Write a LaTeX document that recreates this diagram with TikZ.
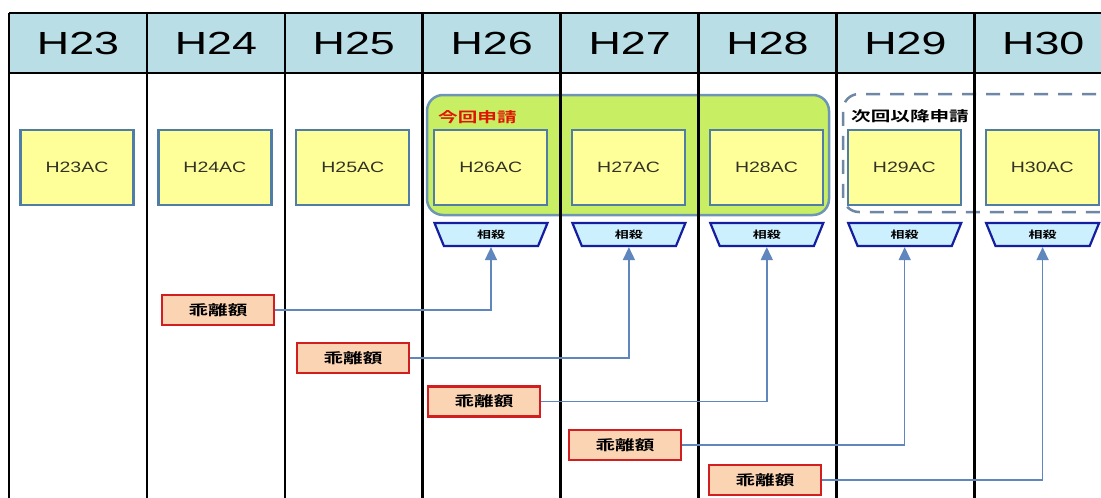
\documentclass[tikz,border=0pt]{standalone}
\usepackage{fontspec}
\usetikzlibrary{shapes.geometric,arrows.meta}
\newfontfamily\hdfont[FakeStretch=1.4]{Liberation Sans}
\newfontfamily\acfont[FakeStretch=1.3]{Liberation Sans}
\newfontfamily\jpb[FakeStretch=1.4]{Noto Sans CJK JP Bold}
\definecolor{hdfill}{RGB}{186,222,229}
\definecolor{acfill}{RGB}{255,255,153}
\definecolor{acborder}{RGB}{80,125,165}
\definecolor{actext}{RGB}{50,50,40}
\definecolor{grn}{RGB}{200,238,100}
\definecolor{grnborder}{RGB}{110,150,180}
\definecolor{dashcol}{RGB}{110,135,165}
\definecolor{lblfill}{RGB}{251,212,180}
\definecolor{lblborder}{RGB}{210,30,30}
\definecolor{trapfill}{RGB}{205,240,255}
\definecolor{trapborder}{RGB}{20,30,160}
\definecolor{conncol}{RGB}{95,135,190}
\definecolor{redtxt}{RGB}{225,20,0}
\tikzset{
  colline/.style={line width=2.5pt, black},
  hdtext/.style={font=\hdfont\fontsize{32}{32}\selectfont, inner sep=0pt},
  acbox/.style={draw=acborder, fill=acfill, line width=2.2pt, minimum width=113pt, minimum height=75pt, inner sep=0pt, text=actext, font=\acfont\fontsize{15}{15}\selectfont},
  lblbox/.style={draw=lblborder, fill=lblfill, line width=2.5pt, minimum width=112pt, minimum height=30pt, inner sep=0pt, font=\jpb\fontsize{14}{14}\selectfont},
  trapbox/.style={trapezium, shape border rotate=180, trapezium stretches body, trapezium angle=45, draw=trapborder, fill=trapfill, line width=2.2pt, minimum width=113pt, minimum height=23pt, inner sep=0pt, font=\jpb\fontsize{10}{10}\selectfont},
  conn/.style={draw=conncol, line width=1.5pt, -{Triangle[width=12pt,length=13pt]}},
}
\begin{document}
\begin{tikzpicture}[x=1pt,y=-1pt]
\useasboundingbox (0,0) rectangle (1101,498);
\clip (0,0) rectangle (1101,498);
\fill[white] (0,0) rectangle (1101,498);
% header
\fill[hdfill] (9,13) rectangle (1101,73);
% groups
\draw[fill=grn, draw=grnborder, rounded corners=16pt, line width=2.5pt] (427,95) rectangle (829,215);
\draw[dashcol, dash pattern=on 14pt off 10pt, rounded corners=16pt, line width=2.5pt] (1120,94) -- (843,94) -- (843,212) -- (1120,212);
% grid lines
\draw[colline] (9,13) -- (1101,13);
\draw[colline] (9,73) -- (1101,73);
\foreach \i in {0,...,7} {
  \draw[colline] ({9+137.9*\i},13) -- ({9+137.9*\i},498);
}
% headers
\foreach \i/\y in {0/23,1/24,2/25,3/26,4/27,5/28,6/29,7/30} {
  \node[hdtext] (h\y) at ({78+137.9*\i},43) {H\y};
}
% AC boxes
\foreach \i/\y in {0/23,1/24,2/25,3/26,4/27,5/28,6/29,7/30} {
  \node[acbox] (ac\y) at ({77+137.9*\i},167.5) {H\y AC};
}
% group titles
\node[anchor=west, inner sep=0pt, text=redtxt, font=\jpb\fontsize{14}{14}\selectfont] (konkai) at (438,117) {今回申請};
\node[anchor=west, inner sep=0pt, font=\jpb\fontsize{14}{14}\selectfont] (jikai) at (851,116) {次回以降申請};
% trapezoids
\foreach \i/\y in {3/26,4/27,5/28,6/29,7/30} {
  \node[trapbox] (t\y) at ({491+137.9*(\i-3)},234.5) {\raisebox{-4pt}{相殺}};
}
% labels
\node[lblbox] (l26) at (218,310) {乖離額};
\node[lblbox] (l27) at (353,358) {乖離額};
\node[lblbox] (l28) at (484,401.5) {乖離額};
\node[lblbox] (l29) at (625,445) {乖離額};
\node[lblbox] (l30) at (765,480) {乖離額};
% connectors
\foreach \y in {26,27,28,29,30} {
  \draw[conn] (l\y.east) -| (t\y.south);
}
\end{tikzpicture}
\end{document}
